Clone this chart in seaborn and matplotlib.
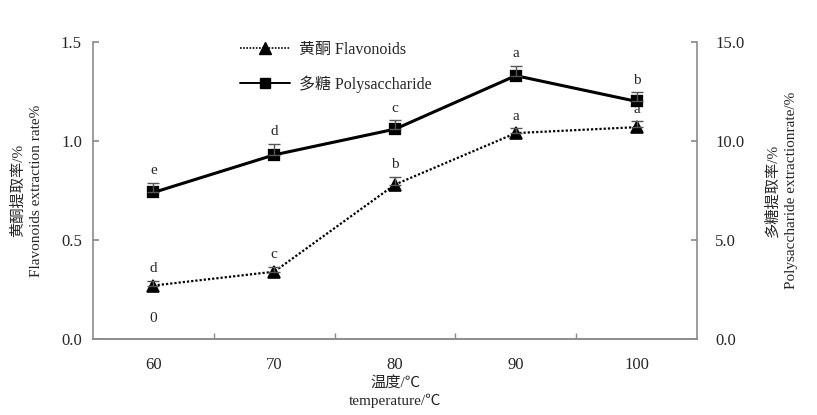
import numpy as np
import pandas as pd
import seaborn as sns
import matplotlib.pyplot as plt
from matplotlib.lines import Line2D

# datos
temps = ["60", "70", "80", "90", "100"]
flav = [0.27, 0.34, 0.78, 1.04, 1.07]
flav_err = [0.025, 0.025, 0.04, 0.025, 0.03]
flav_sig = ["d", "c", "b", "a", "a"]
poly = [7.4, 9.3, 10.6, 13.3, 12.0]
poly_err = [0.5, 0.55, 0.45, 0.5, 0.45]
poly_sig = ["e", "d", "c", "a", "b"]

df = pd.DataFrame({"temp": temps, "flav": flav, "poly": poly})

sns.set_theme(style="white")
plt.rcParams["font.family"] = ["Liberation Serif", "Noto Sans CJK SC"]
plt.rcParams["font.size"] = 11

GRIS = "#8c8c8c"
DOTS = (0, (1, 0.9))

fig = plt.figure(figsize=(8.17, 4.15), dpi=100)
ax = fig.add_axes([93 / 817, 76 / 415, 604 / 817, 297 / 415])
ax2 = ax.twinx()

x_pos = np.arange(len(temps))

# flavonoides (eje izquierdo)
sns.pointplot(data=df, x="temp", y="flav", order=temps, color="black",
              markers="^", linestyles=DOTS, errorbar=None, ax=ax,
              linewidth=1.6, markersize=8)
# solo la barra superior es visible en el original
ax.errorbar(x_pos, flav, yerr=[np.zeros(len(flav)), flav_err], fmt="none",
            ecolor="#555555", elinewidth=1, capsize=4, zorder=5)

# polisacáridos (eje derecho)
sns.pointplot(data=df, x="temp", y="poly", order=temps, color="black",
              markers="s", linestyles="-", errorbar=None, ax=ax2,
              linewidth=2.2, markersize=7.5)
ax2.errorbar(x_pos, poly, yerr=[np.zeros(len(poly)), poly_err], fmt="none",
             ecolor="#555555", elinewidth=1, capsize=4, zorder=5)

for i, (v, e, s) in enumerate(zip(flav, flav_err, flav_sig)):
    ax.annotate(s, (i, v + e), xytext=(0, 4), textcoords="offset points",
                ha="center", va="bottom", fontsize=11)
ax.annotate("0", (0, flav[0]), xytext=(0, -19), textcoords="offset points",
            ha="center", va="top", fontsize=11)
for i, (v, e, s) in enumerate(zip(poly, poly_err, poly_sig)):
    ax2.annotate(s, (i, v + e), xytext=(0, 4), textcoords="offset points",
                 ha="center", va="bottom", fontsize=11)

ax.set_xlim(-0.5, len(temps) - 0.5)
ax.set_ylim(0, 1.5)
ax2.set_ylim(0, 15)
ax.set_yticks([0, 0.5, 1.0, 1.5])
ax.set_yticklabels(["0.0", "0.5", "1.0", "1.5"])
ax2.set_yticks([0, 5, 10, 15])
ax2.set_yticklabels(["0.0", "5.0", "10.0", "15.0"])

ax.set_xticks(x_pos)
ax.set_xticklabels(temps)
ax.set_xticks(x_pos[:-1] + 0.5, minor=True)
ax.tick_params(axis="x", which="major", length=0, pad=13, labelsize=12)
ax.tick_params(axis="x", which="minor", direction="in", length=4,
               color=GRIS, bottom=True)
ax.tick_params(axis="y", direction="in", length=4, color=GRIS, pad=8,
               labelsize=12, left=True)
ax2.tick_params(axis="y", direction="in", length=4, color=GRIS, pad=13,
                labelsize=12, right=True)

for a in (ax, ax2):
    a.spines["top"].set_visible(False)
    for sp in ("left", "right", "bottom"):
        a.spines[sp].set_color(GRIS)
        a.spines[sp].set_linewidth(1.2)
ax2.spines["left"].set_visible(False)
ax.spines["right"].set_visible(False)

ax.set_xlabel("温度/℃\ntemperature/℃", fontsize=11, linespacing=1.3, labelpad=2)
ax.set_ylabel("黄酮提取率/%\nFlavonoids extraction rate%", fontsize=11,
              linespacing=1.5, labelpad=13)
ax2.set_ylabel("多糖提取率/%\nPolysaccharide extractionrate/%", fontsize=11,
               linespacing=1.5, labelpad=15, rotation=90)

handles = [
    Line2D([], [], color="black", linestyle=DOTS, linewidth=1.2,
           marker="^", markersize=8),
    Line2D([], [], color="black", linestyle="-", linewidth=1.4,
           marker="s", markersize=7),
]
fig.legend(handles, ["黄酮 Flavonoids", "多糖 Polysaccharide"],
           loc="upper left", bbox_to_anchor=(240 / 817, 1 - 42 / 415),
           frameon=False, fontsize=11.5, handlelength=3.1,
           handletextpad=0.6, labelspacing=1.1, borderpad=0, borderaxespad=0)

fig.savefig("out.png", dpi=100)
